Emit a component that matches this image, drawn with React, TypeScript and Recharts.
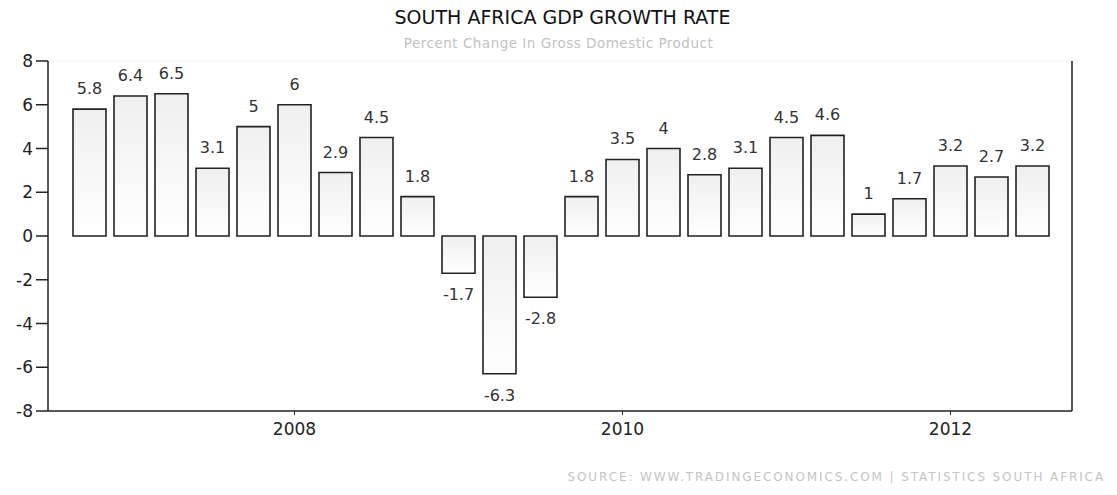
import React from 'react';
import { BarChart, Bar, XAxis, YAxis, CartesianGrid, LabelList } from 'recharts';

const quarters = [
  '2006Q4',
  '2007Q1', '2007Q2', '2007Q3', '2007Q4',
  '2008Q1', '2008Q2', '2008Q3', '2008Q4',
  '2009Q1', '2009Q2', '2009Q3', '2009Q4',
  '2010Q1', '2010Q2', '2010Q3', '2010Q4',
  '2011Q1', '2011Q2', '2011Q3', '2011Q4',
  '2012Q1', '2012Q2', '2012Q3',
];
const growth = [
  5.8, 6.4, 6.5, 3.1, 5, 6, 2.9, 4.5, 1.8, -1.7, -6.3, -2.8,
  1.8, 3.5, 4, 2.8, 3.1, 4.5, 4.6, 1, 1.7, 3.2, 2.7, 3.2,
];
const yearTicks = ['2008Q1', '2010Q1', '2012Q1'];
const yTicks = [-8, -6, -4, -2, 0, 2, 4, 6, 8];

const FONT = '"DejaVu Sans", Verdana, sans-serif';
const INK = '#222';

const chartData = quarters.map((q, i) => ({ q, value: growth[i] }));

// value labels: above positive bars, below negative ones
const ValueLabel = (props: any) => {
  const { x, y, width, height, value } = props;
  const top = Math.min(y, y + height);
  const bottom = Math.max(y, y + height);
  const cx = x + width / 2;
  const ty = value >= 0 ? top - 15 : bottom + 27;
  return (
    <text x={cx} y={ty} textAnchor="middle" fontSize={16} fontFamily={FONT} fill="#333">
      {value}
    </text>
  );
};

export default function App() {
  return (
    <div style={{ position: 'absolute', left: 0, top: 0, width: 1117, height: 495, background: '#fff' }}>
      <div
        style={{
          position: 'absolute', top: 6, left: 4, width: 1117, textAlign: 'center',
          fontFamily: FONT, fontSize: 19, color: '#111',
        }}
      >
        SOUTH AFRICA GDP GROWTH RATE
      </div>
      <div
        style={{
          position: 'absolute', top: 35, left: 0, width: 1117, textAlign: 'center',
          fontFamily: FONT, fontSize: 13.5, letterSpacing: 0.5, color: '#c2c2c2',
        }}
      >
        Percent Change In Gross Domestic Product
      </div>
      <div
        style={{
          position: 'absolute', top: 470, right: 12, fontFamily: FONT, fontSize: 12,
          color: '#c4c4c4', letterSpacing: 1.9,
        }}
      >
        SOURCE: WWW.TRADINGECONOMICS.COM | STATISTICS SOUTH AFRICA
      </div>
      <BarChart
        width={1117}
        height={495}
        data={chartData}
        margin={{ top: 61, right: 0, left: 0, bottom: 33 }}
        barCategoryGap={8}
        style={{ position: 'absolute', left: 0, top: 0 }}
      >
        <defs>
          <linearGradient id="barFill" x1="0" y1="0" x2="0" y2="1">
            <stop offset="0%" stopColor="#efefef" />
            <stop offset="100%" stopColor="#ffffff" />
          </linearGradient>
        </defs>
        <CartesianGrid vertical={false} stroke="#f4f4f4" />
        <XAxis
          dataKey="q"
          ticks={yearTicks}
          interval={0}
          tickFormatter={(q: string) => q.slice(0, 4)}
          padding={{ left: 21, right: 19 }}
          height={51}
          tickSize={4}
          tickMargin={8}
          axisLine={{ stroke: INK, strokeWidth: 1.5 }}
          tickLine={{ stroke: INK }}
          tick={{ fill: INK, fontSize: 17, fontFamily: FONT }}
        />
        <YAxis
          yAxisId="left"
          orientation="left"
          width={48}
          domain={[-8, 8]}
          ticks={yTicks}
          tickSize={12}
          tickMargin={3}
          axisLine={{ stroke: INK, strokeWidth: 1.5 }}
          tickLine={{ stroke: INK, strokeWidth: 1.5 }}
          tick={{ fill: INK, fontSize: 17, fontFamily: FONT }}
        />
        <YAxis
          yAxisId="right"
          orientation="right"
          width={45}
          domain={[-8, 8]}
          ticks={yTicks}
          tickSize={12}
          tickMargin={3}
          axisLine={{ stroke: INK, strokeWidth: 1.5 }}
          tickLine={{ stroke: INK, strokeWidth: 1.5 }}
          tick={{ fill: INK, fontSize: 17, fontFamily: FONT }}
        />
        <Bar
          yAxisId="left"
          dataKey="value"
          barSize={33}
          fill="url(#barFill)"
          stroke={INK}
          strokeWidth={1.6}
          isAnimationActive={false}
        >
          <LabelList dataKey="value" content={<ValueLabel />} />
        </Bar>
      </BarChart>
    </div>
  );
}
